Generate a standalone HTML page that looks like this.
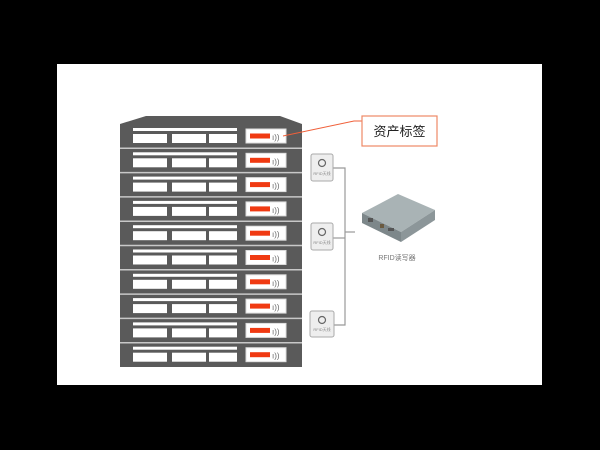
<!DOCTYPE html>
<html><head><meta charset="utf-8"><style>
html,body{margin:0;padding:0;background:#000;width:600px;height:450px;overflow:hidden}
</style></head><body>
<svg width="600" height="450" xmlns="http://www.w3.org/2000/svg" font-family="Liberation Sans, Noto Sans CJK SC, sans-serif">
<rect x="0" y="0" width="600" height="450" fill="#000"/>
<rect x="57" y="64" width="485" height="321" fill="#fff"/>
<polygon points="146,116 280,116 302,124 120,124" fill="#5a5a5a"/>
<rect x="120" y="124" width="182" height="243" fill="#5a5a5a"/>
<g stroke="#c8c8c8" stroke-width="1.5">
<line x1="120" y1="148.3" x2="302" y2="148.3"/><line x1="120" y1="172.6" x2="302" y2="172.6"/>
<line x1="120" y1="196.9" x2="302" y2="196.9"/><line x1="120" y1="221.2" x2="302" y2="221.2"/>
<line x1="120" y1="245.5" x2="302" y2="245.5"/><line x1="120" y1="269.8" x2="302" y2="269.8"/>
<line x1="120" y1="294.1" x2="302" y2="294.1"/><line x1="120" y1="318.4" x2="302" y2="318.4"/>
<line x1="120" y1="342.7" x2="302" y2="342.7"/>
</g>
<defs>
<g id="u">
<rect x="133" y="4" width="104" height="3" fill="#fff"/>
<rect x="133" y="10" width="34" height="9" fill="#fff"/>
<rect x="172" y="10" width="34" height="9" fill="#fff"/>
<rect x="209" y="10" width="28" height="9" fill="#fff"/>
<rect x="246" y="5" width="40" height="14" fill="#fff" stroke="#ddd"/>
<rect x="250" y="9.5" width="20" height="5" fill="#f03a12"/>
<text x="272" y="16" font-size="8" fill="#666">ı))</text>
</g>
</defs>
<use href="#u" y="124"/><use href="#u" y="148.3"/><use href="#u" y="172.6"/><use href="#u" y="196.9"/>
<use href="#u" y="221.2"/><use href="#u" y="245.5"/><use href="#u" y="269.8"/><use href="#u" y="294.1"/>
<use href="#u" y="318.4"/><use href="#u" y="342.7"/>
<polyline points="283,136 354,121 362,121" fill="none" stroke="#f0603a" stroke-width="1"/>
<rect x="362" y="116" width="75" height="30" fill="#fff" stroke="#ee8866" stroke-width="1.2"/>
<text x="399.5" y="136" font-size="13" text-anchor="middle" fill="#222">资产标签</text>
<g fill="none" stroke="#999" stroke-width="1.2">
<polyline points="333,168 345,168 345,325 334,325"/>
<line x1="333" y1="238" x2="345" y2="238"/>
<line x1="345" y1="232" x2="355" y2="232"/>
</g>
<g>
<rect x="311" y="154" width="22" height="27" fill="#eee" stroke="#aaa" rx="2"/>
<circle cx="322" cy="163" r="3.5" fill="none" stroke="#666" stroke-width="1.2"/>
<text x="322" y="175" font-size="4" text-anchor="middle" fill="#888">RFID天线</text>
<rect x="311" y="223" width="22" height="27" fill="#eee" stroke="#aaa" rx="2"/>
<circle cx="322" cy="232" r="3.5" fill="none" stroke="#666" stroke-width="1.2"/>
<text x="322" y="244" font-size="4" text-anchor="middle" fill="#888">RFID天线</text>
<rect x="310" y="311" width="24" height="26" fill="#eee" stroke="#aaa" rx="2"/>
<circle cx="322" cy="320" r="3.5" fill="none" stroke="#666" stroke-width="1.2"/>
<text x="322" y="331" font-size="4" text-anchor="middle" fill="#888">RFID天线</text>
</g>
<polygon points="362,213 398,194 435,210 401,232" fill="#a9b3b5"/>
<polygon points="362,213 401,232 401,242 362,223" fill="#7d878a"/>
<polygon points="401,232 435,210 435,220 401,242" fill="#8c9699"/>
<rect x="368" y="218" width="5" height="4" fill="#555"/>
<rect x="380" y="224" width="4" height="4" fill="#6a5a40"/>
<rect x="388" y="228" width="6" height="3" fill="#555"/>
<text x="397" y="260" font-size="7" text-anchor="middle" fill="#777">RFID读写器</text>
</svg>
</body></html>
